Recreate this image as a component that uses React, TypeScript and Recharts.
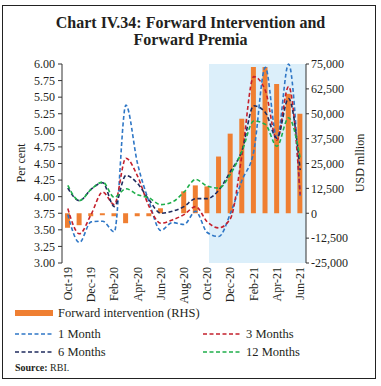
import {
  Bar,
  ComposedChart,
  Line,
  ReferenceArea,
  XAxis,
  YAxis,
} from "recharts";

const months = [
  "Oct-19", "Nov-19", "Dec-19", "Jan-20", "Feb-20", "Mar-20", "Apr-20",
  "May-20", "Jun-20", "Jul-20", "Aug-20", "Sep-20", "Oct-20", "Nov-20",
  "Dec-20", "Jan-21", "Feb-21", "Mar-21", "Apr-21", "May-21", "Jun-21",
];

// USD million, right axis
const fwdIntervention = [
  -7300, -6000, -1500, -1000, -1500, -5000, -1500, -1500, 2500, 0, 11000,
  14000, 13500, 28500, 40000, 47500, 73500, 73500, 65000, 60000, 50000,
];

// forward premia, per cent
const prem1M = [
  3.73, 3.31, 3.62, 3.63, 3.47, 5.38, 4.5, 3.92, 3.49, 3.61, 3.58,
  3.78, 3.46, 3.4, 3.75, 4.25, 4.68, 5.95, 4.88, 6.0, 3.98,
];
const prem3M = [
  3.82, 3.44, 3.73, 4.07, 3.88, 4.58, 4.31, 3.85, 3.6, 3.65, 3.73,
  3.85, 3.62, 3.53, 3.67, 4.64, 5.81, 5.6, 4.85, 5.66, 4.03,
];
const prem6M = [
  4.13, 3.94, 4.11, 4.21, 3.85, 4.32, 4.2, 3.95, 3.75, 3.78, 3.85,
  3.97, 3.97, 4.1, 4.38, 4.7, 5.37, 5.27, 4.88, 5.48, 4.4,
];
const prem12M = [
  4.17, 3.94, 4.11, 4.22, 3.99, 4.12, 4.03, 3.98, 3.88, 3.92, 4.07,
  4.26, 4.16, 4.13, 4.34, 4.69, 5.14, 5.09, 4.76, 5.19, 4.58,
];

const leftTicks = [3, 3.25, 3.5, 3.75, 4, 4.25, 4.5, 4.75, 5, 5.25, 5.5, 5.75, 6];
const rightTicks = [-25000, -12500, 0, 12500, 25000, 37500, 50000, 62500, 75000];
const labelTicks = [0, 2, 4, 6, 8, 10, 12, 14, 16, 18, 20];
const markTicks = [-0.5, 1.5, 3.5, 5.5, 7.5, 9.5, 11.5, 13.5, 15.5, 17.5, 19.5];
const shadeStart = 12.15; // highlighted period starts around Oct-20

const data = months.map((m, i) => ({
  idx: i,
  month: m,
  fwd: fwdIntervention[i],
  m1: prem1M[i],
  m3: prem3M[i],
  m6: prem6M[i],
  m12: prem12M[i],
}));

const FONT = "'Liberation Serif', 'Times New Roman', serif";
const INK = "#231f20";
const COLORS = {
  bar: "#ef7f32",
  m1: "#2f77c6",
  m3: "#c4202c",
  m6: "#1f2b5e",
  m12: "#1faf4b",
  shade: "#dcEFFA",
};
const DASH = "4 2.5";

function MonthTick({ x, y, payload }: any) {
  return (
    <text
      x={x}
      y={y}
      transform={`rotate(-90 ${x} ${y})`}
      textAnchor="end"
      dominantBaseline="central"
      fontSize={12}
      fontFamily={FONT}
      fill={INK}
    >
      {months[payload.value]}
    </text>
  );
}

function DashSwatch({ color }: { color: string }) {
  return (
    <svg width={38} height={6} style={{ display: "block" }}>
      <line x1={0} y1={3} x2={38} y2={3} stroke={color} strokeWidth={1.6} strokeDasharray={DASH} />
    </svg>
  );
}

const legendText = { fontSize: 12.5, color: INK, lineHeight: "14px" } as const;

export default function App() {
  return (
    <div
      style={{
        position: "absolute",
        left: 0,
        top: 0,
        width: 381,
        height: 386,
        background: "#fff",
        fontFamily: FONT,
      }}
    >
      <div
        style={{
          position: "absolute",
          left: 2,
          top: 5,
          width: 374,
          height: 374,
          boxSizing: "border-box",
          border: "1.5px solid #222",
        }}
      />
      <div
        style={{
          position: "absolute",
          left: 0,
          top: 14,
          width: 381,
          textAlign: "center",
          fontWeight: "bold",
          fontSize: 16,
          lineHeight: "17px",
          color: INK,
        }}
      >
        Chart IV.34: Forward Intervention and
        <br />
        Forward Premia
      </div>

      <div style={{ position: "absolute", left: 0, top: 0 }}>
        <ComposedChart
          width={381}
          height={310}
          data={data}
          margin={{ top: 64, right: 0, bottom: 0, left: 0 }}
        >
          <ReferenceArea
            xAxisId="m"
            yAxisId="l"
            x1={shadeStart}
            x2={20.5}
            fill={COLORS.shade}
            fillOpacity={1}
            stroke="none"
          />
          <XAxis
            xAxisId="m"
            dataKey="idx"
            type="number"
            domain={[-0.5, 20.5]}
            ticks={markTicks}
            interval={0}
            tick={false}
            tickSize={4}
            height={0}
            stroke="#333"
          />
          <XAxis
            xAxisId="lab"
            dataKey="idx"
            type="number"
            domain={[-0.5, 20.5]}
            ticks={labelTicks}
            interval={0}
            tick={<MonthTick />}
            tickLine={false}
            axisLine={false}
            tickSize={0}
            tickMargin={4}
            height={47}
          />
          <YAxis
            yAxisId="l"
            domain={[3, 6]}
            ticks={leftTicks}
            interval={0}
            width={62}
            tickFormatter={(v: number) => v.toFixed(2)}
            tick={{ fontSize: 12, fill: INK, fontFamily: FONT }}
            tickSize={4}
            tickMargin={3}
            stroke="#333"
          />
          <YAxis
            yAxisId="r"
            orientation="right"
            domain={[-25000, 75000]}
            ticks={rightTicks}
            interval={0}
            width={75}
            tickFormatter={(v: number) => v.toLocaleString("en-US")}
            tick={{ fontSize: 12, fill: INK, fontFamily: FONT, textAnchor: "start" }}
            tickSize={3}
            tickMargin={2}
            stroke="#333"
          />
          <Bar
            xAxisId="m"
            yAxisId="r"
            dataKey="fwd"
            fill={COLORS.bar}
            barSize={5}
            isAnimationActive={false}
          />
          {(["m1", "m3", "m6", "m12"] as const).map((k) => (
            <Line
              key={k}
              xAxisId="m"
              yAxisId="l"
              type="monotone"
              dataKey={k}
              stroke={COLORS[k]}
              strokeWidth={1.6}
              strokeDasharray={DASH}
              dot={false}
              activeDot={false}
              isAnimationActive={false}
            />
          ))}
        </ComposedChart>
      </div>

      <div
        style={{
          position: "absolute",
          left: 21,
          top: 163,
          transform: "translate(-50%, -50%) rotate(-90deg)",
          fontSize: 12,
          color: INK,
          whiteSpace: "nowrap",
        }}
      >
        Per cent
      </div>
      <div
        style={{
          position: "absolute",
          left: 360,
          top: 163,
          transform: "translate(-50%, -50%) rotate(-90deg)",
          fontSize: 12,
          color: INK,
          whiteSpace: "nowrap",
        }}
      >
        USD mllion
      </div>

      {/* legend */}
      <div style={{ position: "absolute", left: 15, top: 306, display: "flex", alignItems: "center", gap: 5 }}>
        <div style={{ width: 38, height: 6, background: COLORS.bar }} />
        <span style={legendText}>Forward intervention (RHS)</span>
      </div>
      <div style={{ position: "absolute", left: 15, top: 327, display: "flex", alignItems: "center", gap: 5 }}>
        <DashSwatch color={COLORS.m1} />
        <span style={legendText}>1 Month</span>
      </div>
      <div style={{ position: "absolute", left: 203, top: 327, display: "flex", alignItems: "center", gap: 5 }}>
        <DashSwatch color={COLORS.m3} />
        <span style={legendText}>3 Months</span>
      </div>
      <div style={{ position: "absolute", left: 15, top: 345, display: "flex", alignItems: "center", gap: 5 }}>
        <DashSwatch color={COLORS.m6} />
        <span style={legendText}>6 Months</span>
      </div>
      <div style={{ position: "absolute", left: 203, top: 345, display: "flex", alignItems: "center", gap: 5 }}>
        <DashSwatch color={COLORS.m12} />
        <span style={legendText}>12 Months</span>
      </div>
      <div style={{ position: "absolute", left: 15, top: 362, fontSize: 10, color: INK }}>
        <b>Source:</b> RBI.
      </div>
    </div>
  );
}
